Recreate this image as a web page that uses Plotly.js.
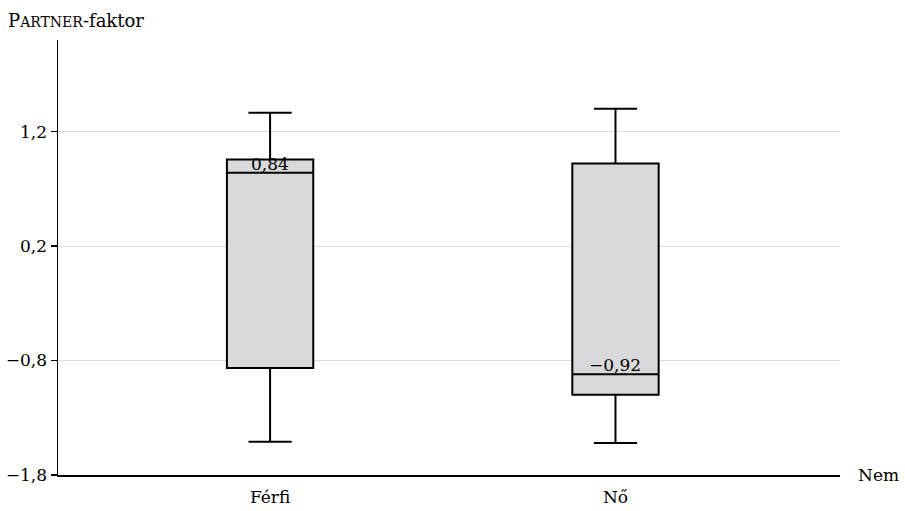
<!DOCTYPE html>
<html>
<head>
<meta charset="utf-8">
<script src="https://cdn.plot.ly/plotly-3.0.1.min.js"></script>
<style>html,body{margin:0;padding:0;background:#fff;}#chart{width:905px;height:511px;}</style>
</head>
<body>
<div id="chart"></div>
<script>
const categories = ["Férfi", "Nő"];
const lowerWhisker = [-1.51, -1.52];
const q1 = [-0.866, -1.10];
const medians = [0.84, -0.92];
const q3 = [0.956, 0.921];
const upperWhisker = [1.365, 1.40];
const medianLabels = ["0,84", "−0,92"];
const yTicks = [-1.8, -0.8, 0.2, 1.2];

const FONT = "DejaVu Serif";
const FS = 17;

const trace = {
  type: "box",
  x: categories,
  q1: q1,
  median: medians,
  q3: q3,
  lowerfence: lowerWhisker,
  upperfence: upperWhisker,
  fillcolor: "#d9d9db",
  line: {color: "#000", width: 2},
  width: 0.25,
  whiskerwidth: 0.5,
  boxpoints: false,
  hoverinfo: "skip",
  showlegend: false
};

const annotations = categories.map((c, i) => ({
  x: c, y: medians[i], xref: "x", yref: "y",
  text: medianLabels[i], showarrow: false,
  yanchor: "bottom", yshift: -3,
  font: {family: FONT, size: FS, color: "#000"}
}));
annotations.push({
  xref: "paper", yref: "paper", x: -0.067, y: 1.0, yshift: 20,
  xanchor: "left", yanchor: "middle", showarrow: false,
  text: "P<span style='font-size:14px'>ARTNER</span>-faktor",
  font: {family: FONT, size: 18, color: "#000"}
});
annotations.push({
  xref: "paper", yref: "y", x: 1.0, y: -1.8, xshift: 16,
  xanchor: "left", yanchor: "middle", showarrow: false,
  text: "Nem",
  font: {family: FONT, size: FS, color: "#000"}
});

const layout = {
  width: 905, height: 511,
  margin: {l: 58, r: 65, t: 40, b: 36},
  paper_bgcolor: "#fff", plot_bgcolor: "#fff",
  separators: ", ",
  font: {family: FONT, size: FS, color: "#000"},
  xaxis: {
    type: "category",
    range: [-0.614, 1.65],
    showline: true, linecolor: "#000", linewidth: 1.5,
    showgrid: false, zeroline: false, ticks: "",
    tickfont: {family: FONT, size: FS, color: "#000"},
    ticklabelstandoff: 6
  },
  yaxis: {
    range: [-1.8, 2.0],
    tickvals: yTicks,
    ticktext: yTicks.map(v => (v < 0 ? "−" : "") + Math.abs(v).toFixed(1).replace(".", ",")),
    showline: true, linecolor: "#000", linewidth: 1.5,
    ticks: "outside", ticklen: 6, tickcolor: "#000", tickwidth: 1.5,
    showgrid: true, gridcolor: "#dcdcdc", gridwidth: 1,
    zeroline: false,
    tickfont: {family: FONT, size: FS, color: "#000"}
  },
  annotations: annotations,
  showlegend: false
};

Plotly.newPlot("chart", [trace], layout, {displayModeBar: false, staticPlot: true});
</script>
</body>
</html>
